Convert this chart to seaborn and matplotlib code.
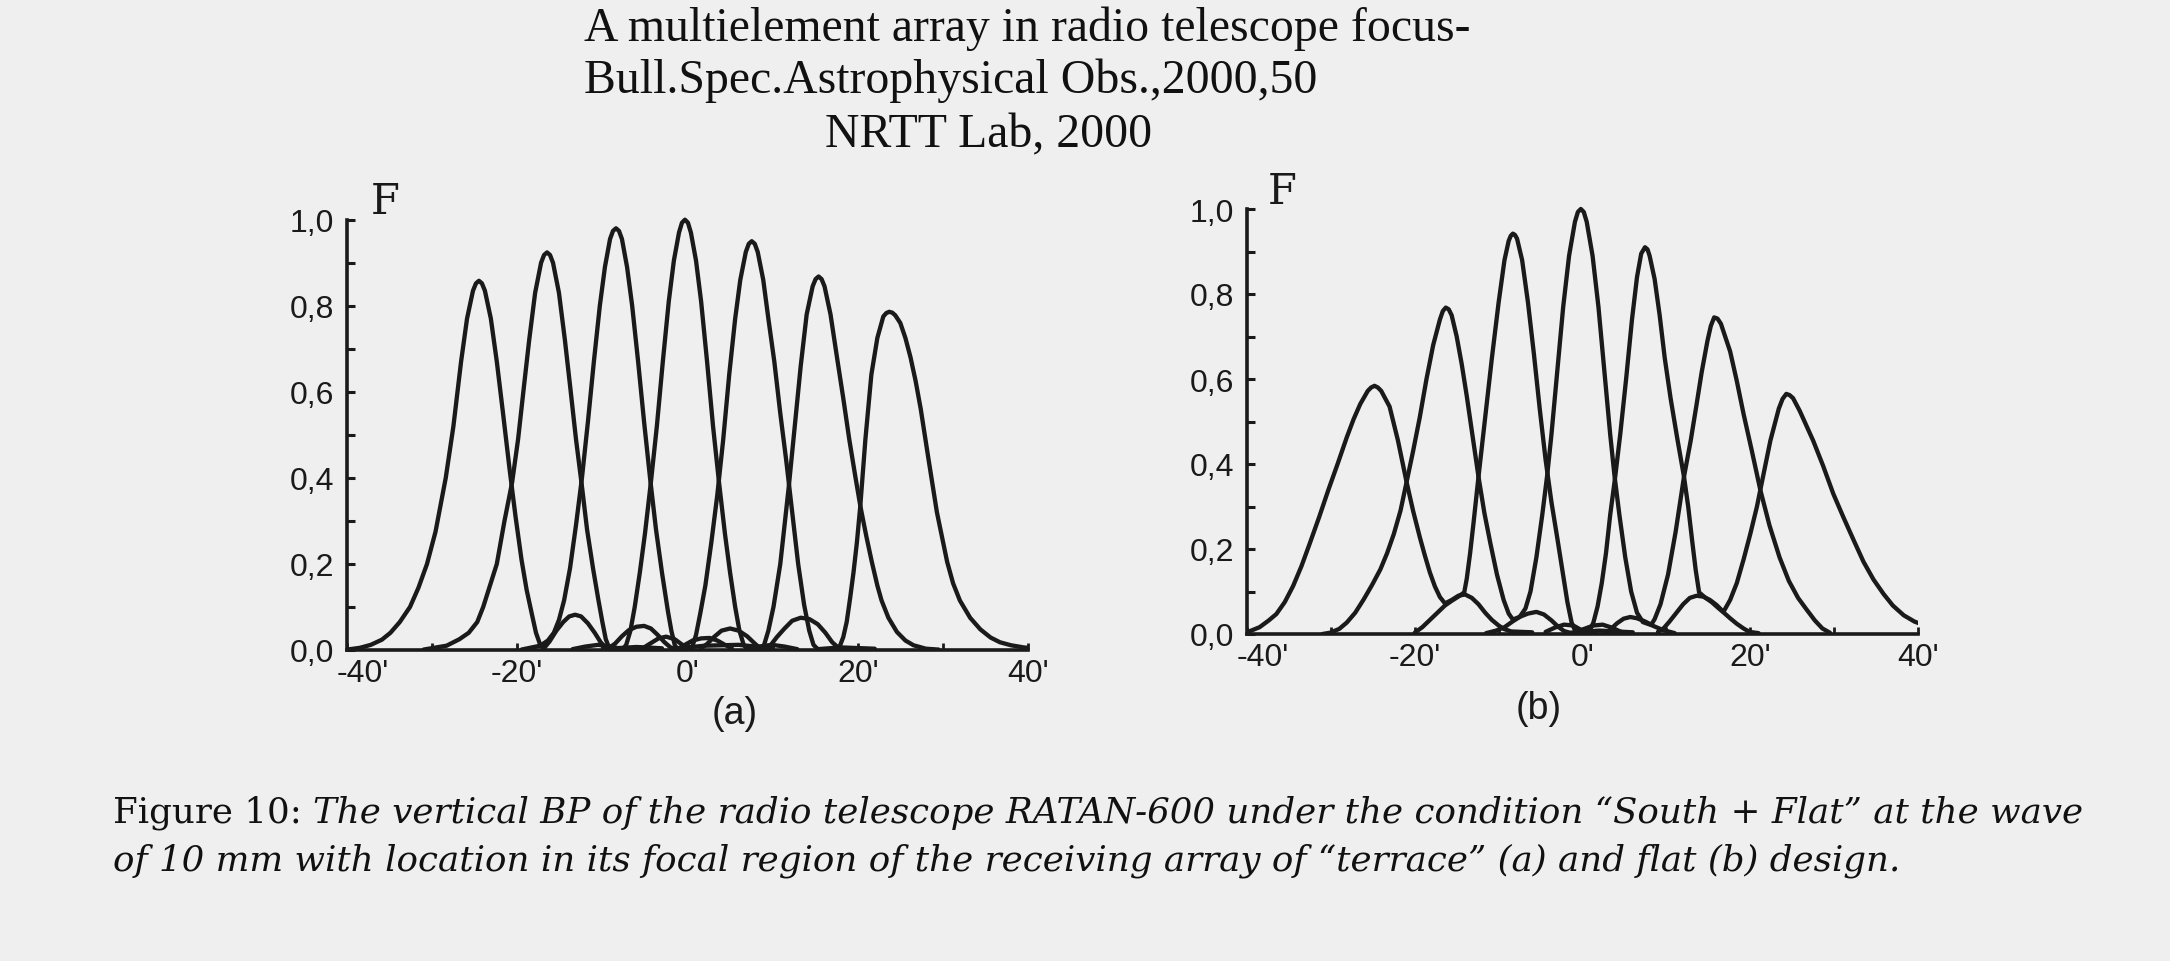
import numpy as np
import pandas as pd
import matplotlib
matplotlib.use("Agg")
import matplotlib.pyplot as plt
from matplotlib.transforms import ScaledTranslation
import seaborn as sns

# ---------------------------------------------------------------------------
# values: x in arcmin, F normalised beam response
# panel (a) "terrace" array: seven beams
A1_X = [-40.0, -38.5, -37.2, -35.9, -34.9, -33.8, -32.6, -31.6, -30.6, -29.6, -28.4, -27.5, -26.6, -25.9,
        -25.2, -24.85, -24.5, -24.15, -23.8, -23.1, -22.4, -21.7, -20.9, -20.2, -19.5, -18.9, -18.3, -17.8,
        -17.3, -16.9, -16.2, -15.4, -14.6, -13.9, -13.2, -12.5, -11.7, -10.9, -10.2, -9.6, -8.5, -6.0, -3.0]
A1_F = [0.001, 0.005, 0.012, 0.024, 0.040, 0.065, 0.100, 0.145, 0.200, 0.275, 0.400, 0.520, 0.670, 0.770,
        0.835, 0.852, 0.858, 0.852, 0.835, 0.770, 0.670, 0.555, 0.420, 0.310, 0.210, 0.140, 0.085, 0.040,
        0.012, 0.003, 0.020, 0.045, 0.065, 0.078, 0.082, 0.078, 0.062, 0.040, 0.018, 0.005, 0.004, 0.007, 0.004]

A2_X = [-31.0, -28.3, -26.8, -25.7, -24.7, -24.0, -23.2, -22.4, -21.5, -20.6, -19.9, -19.2, -18.6, -17.9,
        -17.2, -16.85, -16.5, -16.15, -15.8, -15.1, -14.4, -13.8, -13.1, -12.4, -11.8, -11.1, -10.5, -10.0,
        -9.6, -9.2, -8.5, -7.7, -6.9, -6.0, -5.1, -4.3, -3.5, -2.7, -2.0, -1.5, 2.0, 6.0, 10.0]
A2_F = [0.001, 0.010, 0.025, 0.040, 0.065, 0.100, 0.150, 0.200, 0.300, 0.390, 0.490, 0.615, 0.720, 0.830,
        0.900, 0.918, 0.924, 0.918, 0.900, 0.830, 0.720, 0.615, 0.490, 0.380, 0.280, 0.190, 0.120, 0.065,
        0.025, 0.005, 0.015, 0.032, 0.046, 0.054, 0.056, 0.050, 0.035, 0.018, 0.006, 0.003, 0.010, 0.012, 0.004]

A3_X = [-19.5, -17.3, -16.4, -15.7, -15.1, -14.5, -13.8, -13.1, -12.4, -11.7, -11.0, -10.3, -9.7, -9.1,
        -8.75, -8.4, -8.05, -7.7, -7.1, -6.5, -5.8, -5.1, -4.4, -3.7, -3.0, -2.3, -1.9, -1.5, -1.2, -0.3,
        0.6, 1.6, 2.6, 3.5, 4.4, 5.2]
A3_F = [0.001, 0.010, 0.022, 0.040, 0.070, 0.115, 0.190, 0.290, 0.400, 0.530, 0.670, 0.800, 0.890, 0.955,
        0.974, 0.980, 0.974, 0.955, 0.890, 0.800, 0.670, 0.530, 0.400, 0.280, 0.180, 0.090, 0.045, 0.012,
        0.002, 0.012, 0.022, 0.027, 0.028, 0.022, 0.012, 0.004]

A4_X = [-13.5, -12.0, -10.5, -9.0, -7.6, -7.2, -6.7, -6.2, -5.6, -5.0, -4.3, -3.6, -2.9, -2.2, -1.6,
        -1.0, -0.65, -0.3, 0.05, 0.4, 1.0, 1.6, 2.3, 3.0, 3.7, 4.4, 5.0, 5.6, 6.1, 6.6, 7.0, 8.4, 9.9,
        11.4, 12.9]
A4_F = [0.002, 0.008, 0.012, 0.008, 0.002, 0.012, 0.045, 0.100, 0.180, 0.270, 0.390, 0.520, 0.670, 0.810,
        0.905, 0.970, 0.993, 1.000, 0.993, 0.970, 0.905, 0.810, 0.670, 0.520, 0.390, 0.270, 0.180, 0.100,
        0.045, 0.012, 0.002, 0.008, 0.012, 0.008, 0.002]

A5_X = [-5.8, -5.1, -4.3, -3.4, -2.5, -1.5, -0.6, 0.2, 0.6, 1.0, 1.5, 2.1, 2.8, 3.5, 4.2, 4.9, 5.6, 6.2,
        6.85, 7.2, 7.55, 7.9, 8.25, 8.9, 9.5, 10.2, 10.9, 11.6, 12.3, 13.0, 13.7, 14.3, 14.8, 15.3, 18.0, 22.0]
A5_F = [0.002, 0.006, 0.016, 0.027, 0.031, 0.025, 0.012, 0.001, 0.010, 0.035, 0.085, 0.150, 0.250, 0.360,
        0.490, 0.640, 0.770, 0.860, 0.925, 0.944, 0.950, 0.944, 0.925, 0.860, 0.770, 0.670, 0.550, 0.440,
        0.320, 0.200, 0.105, 0.045, 0.012, 0.002, 0.006, 0.003]

A6_X = [1.6, 2.3, 3.1, 4.0, 5.0, 6.0, 7.0, 7.9, 8.7, 9.0, 9.5, 10.1, 10.9, 11.9, 12.6, 13.3, 14.0, 14.7,
        15.05, 15.4, 15.75, 16.1, 16.8, 17.6, 18.3, 19.0, 19.7, 20.3, 21.0, 21.65, 22.3, 22.8, 23.6, 24.6,
        25.6, 26.55, 28.0, 29.5]
A6_F = [0.004, 0.014, 0.030, 0.045, 0.050, 0.045, 0.032, 0.015, 0.001, 0.012, 0.045, 0.100, 0.200, 0.380,
        0.520, 0.660, 0.780, 0.845, 0.862, 0.868, 0.862, 0.845, 0.780, 0.675, 0.585, 0.490, 0.405, 0.335,
        0.265, 0.205, 0.150, 0.115, 0.075, 0.042, 0.022, 0.011, 0.003, 0.001]

A7_X = [9.2, 9.8, 10.5, 11.4, 12.3, 13.3, 14.3, 15.3, 16.2, 17.0, 17.8, 18.3, 18.7, 19.1, 19.5, 19.9,
        20.3, 20.9, 21.6, 22.3, 23.0, 23.35, 23.7, 24.05, 24.4, 25.0, 25.6, 26.2, 26.8, 27.4, 28.3, 29.3,
        30.5, 31.2, 32.0, 33.2, 34.4, 35.6, 36.7, 38.0, 39.5, 40.0]
A7_F = [0.003, 0.012, 0.030, 0.050, 0.068, 0.075, 0.072, 0.060, 0.040, 0.018, 0.004, 0.030, 0.065, 0.120,
        0.180, 0.250, 0.335, 0.490, 0.640, 0.725, 0.775, 0.783, 0.786, 0.784, 0.778, 0.760, 0.725, 0.680,
        0.625, 0.560, 0.445, 0.320, 0.205, 0.155, 0.115, 0.075, 0.048, 0.029, 0.018, 0.011, 0.006, 0.005]

# panel (b) flat array: seven beams
B1_X = [-40.0, -38.5, -37.4, -36.5, -35.5, -34.5, -33.5, -32.5, -31.4, -30.3, -29.2, -28.1, -27.3, -26.5,
        -25.6, -25.2, -24.8, -24.4, -24.0, -23.0, -22.0, -21.0, -20.2, -19.4, -18.8, -18.2, -17.6, -17.0,
        -16.4, -15.6, -14.8, -14.0, -13.2, -12.4, -11.6, -10.8, -10.0, -9.4, -8.5, -6.0]
B1_F = [0.004, 0.016, 0.032, 0.047, 0.075, 0.113, 0.160, 0.214, 0.275, 0.339, 0.400, 0.463, 0.505, 0.541,
        0.572, 0.580, 0.584, 0.580, 0.572, 0.535, 0.455, 0.360, 0.290, 0.228, 0.185, 0.145, 0.112, 0.087,
        0.072, 0.080, 0.090, 0.093, 0.085, 0.070, 0.050, 0.033, 0.020, 0.012, 0.006, 0.004]

B2_X = [-31.0, -30.1, -29.0, -28.1, -27.1, -26.1, -25.1, -24.1, -23.3, -22.5, -21.7, -21.0, -20.2, -19.4,
        -18.6, -17.8, -17.0, -16.65, -16.3, -15.95, -15.6, -15.0, -14.4, -13.8, -13.1, -12.4, -11.7, -11.0,
        -10.2, -9.4, -8.8, -8.3, -7.4, -6.5, -5.5, -4.6, -3.7, -2.9, -2.2, -1.5, 2.0, 6.0]
B2_F = [0.000, 0.003, 0.012, 0.027, 0.050, 0.081, 0.115, 0.152, 0.190, 0.235, 0.290, 0.355, 0.430, 0.510,
        0.600, 0.680, 0.740, 0.760, 0.768, 0.764, 0.750, 0.700, 0.635, 0.560, 0.465, 0.370, 0.285, 0.215,
        0.140, 0.080, 0.048, 0.034, 0.041, 0.048, 0.052, 0.046, 0.032, 0.017, 0.007, 0.003, 0.008, 0.004]

B3_X = [-20.0, -19.1, -18.2, -17.3, -16.4, -15.6, -14.8, -14.1, -13.8, -13.4, -13.0, -12.4, -11.6, -10.8,
        -10.0, -9.3, -8.8, -8.55, -8.3, -8.05, -7.8, -7.2, -6.5, -5.8, -5.1, -4.4, -3.7, -3.0, -2.4, -1.8,
        -1.3, -0.8, 0.2, 1.3, 2.4, 3.5, 4.6]
B3_F = [0.003, 0.016, 0.033, 0.050, 0.067, 0.078, 0.088, 0.098, 0.130, 0.190, 0.260, 0.370, 0.510, 0.650,
        0.780, 0.880, 0.925, 0.937, 0.942, 0.939, 0.930, 0.880, 0.780, 0.660, 0.530, 0.410, 0.310, 0.225,
        0.150, 0.075, 0.027, 0.004, 0.012, 0.020, 0.022, 0.015, 0.005]

B4_X = [-11.5, -10.3, -9.3, -8.3, -7.5, -6.8, -6.2, -5.5, -4.8, -4.2, -3.7, -3.0, -2.3, -1.6, -0.9, -0.55,
        -0.2, 0.15, 0.5, 1.2, 1.9, 2.6, 3.3, 3.8, 4.4, 5.1, 5.8, 6.5, 7.2, 8.2, 9.5, 11.0]
B4_F = [0.002, 0.008, 0.016, 0.030, 0.040, 0.060, 0.100, 0.180, 0.280, 0.375, 0.470, 0.620, 0.770, 0.890,
        0.970, 0.993, 1.000, 0.993, 0.970, 0.890, 0.770, 0.620, 0.470, 0.375, 0.280, 0.180, 0.100, 0.050,
        0.028, 0.021, 0.010, 0.002]

B5_X = [-4.4, -3.3, -2.2, -1.1, -0.2, 0.7, 1.3, 1.8, 2.3, 2.8, 3.3, 3.9, 4.5, 5.2, 5.9, 6.5, 7.0, 7.45,
        7.75, 8.0, 8.6, 9.2, 9.8, 10.5, 11.3, 12.1, 12.6, 13.1, 13.5, 13.9, 14.6, 15.4, 16.2, 16.8, 17.6,
        18.4, 19.2, 19.9, 21.0]
B5_F = [0.005, 0.015, 0.022, 0.020, 0.010, 0.001, 0.027, 0.065, 0.120, 0.190, 0.280, 0.370, 0.470, 0.600,
        0.740, 0.840, 0.895, 0.910, 0.905, 0.890, 0.835, 0.750, 0.650, 0.555, 0.460, 0.370, 0.300, 0.215,
        0.150, 0.098, 0.086, 0.075, 0.061, 0.051, 0.037, 0.024, 0.013, 0.005, 0.002]

B6_X = [2.9, 3.4, 4.1, 4.9, 5.7, 6.5, 7.4, 8.2, 8.6, 9.3, 10.2, 11.1, 12.1, 12.9, 13.6, 14.2, 14.9, 15.3,
        15.7, 16.1, 16.5, 17.6, 18.4, 19.2, 20.2, 21.2, 22.3, 23.5, 24.6, 25.7, 26.7, 27.7, 28.6, 29.5]
B6_F = [0.004, 0.012, 0.025, 0.036, 0.040, 0.037, 0.030, 0.022, 0.035, 0.070, 0.140, 0.240, 0.370, 0.455,
        0.540, 0.615, 0.690, 0.725, 0.745, 0.742, 0.730, 0.665, 0.595, 0.518, 0.430, 0.339, 0.255, 0.180,
        0.125, 0.085, 0.058, 0.032, 0.013, 0.003]

B7_X = [9.0, 9.7, 10.4, 11.2, 12.0, 12.8, 13.6, 14.4, 15.2, 16.0, 16.8, 17.6, 18.4, 19.2, 20.0, 20.8,
        21.2, 22.4, 23.4, 23.85, 24.3, 24.7, 25.1, 25.9, 26.7, 27.5, 28.7, 29.9, 31.1, 32.3, 33.5, 34.7,
        35.9, 37.0, 38.3, 39.6, 40.3]
B7_F = [0.005, 0.014, 0.030, 0.050, 0.070, 0.085, 0.090, 0.088, 0.080, 0.068, 0.052, 0.080, 0.120, 0.175,
        0.235, 0.300, 0.339, 0.455, 0.530, 0.553, 0.565, 0.562, 0.555, 0.525, 0.490, 0.455, 0.395, 0.330,
        0.275, 0.222, 0.170, 0.128, 0.094, 0.067, 0.044, 0.029, 0.024]

X_TICKS = [-40, -20, 0, 20, 40]
X_TICK_LABELS = ["-40'", "-20'", "0'", "20'", "40'"]
X_MINOR = [-30, -10, 10, 30]
Y_TICKS = [0.0, 0.2, 0.4, 0.6, 0.8, 1.0]
Y_TICK_LABELS = ["0,0", "0,2", "0,4", "0,6", "0,8", "1,0"]
Y_MINOR = [0.1, 0.3, 0.5, 0.7, 0.9]

HEADER_1 = "A multielement array in radio telescope focus-"
HEADER_2 = "Bull.Spec.Astrophysical Obs.,2000,50"
HEADER_3 = "NRTT Lab, 2000"
CAPTION_HEAD = "Figure 10: "
CAPTION_1 = "The vertical BP of the radio telescope RATAN-600 under the condition \u201cSouth + Flat\u201d at the wave"
CAPTION_2 = "of 10 mm with location in its focal region of the receiving array of \u201cterrace\u201d (a) and flat (b) design."

############################################################################################################

W, H = 2170, 962
PAPER = "#efefef"
INK = "#1a1a1a"


def beam_frame(xs_list, fs_list):
    parts = [pd.DataFrame({"x": xs, "F": fs, "beam": k})
             for k, (xs, fs) in enumerate(zip(xs_list, fs_list))]
    return pd.concat(parts, ignore_index=True)


def style_axes(ax):
    ax.set_facecolor(PAPER)
    ax.set_xlim(-40, 40)
    ax.set_ylim(0, 1.02)
    sns.despine(ax=ax)
    for side in ["left", "bottom"]:
        ax.spines[side].set_linewidth(2.6)
        ax.spines[side].set_color(INK)
    ax.spines["left"].set_bounds(0, 1)
    ax.set_xticks(X_TICKS)
    ax.set_xticklabels(X_TICK_LABELS)
    ax.set_xticks(X_MINOR, minor=True)
    ax.set_yticks(Y_TICKS)
    ax.set_yticklabels(Y_TICK_LABELS)
    ax.set_yticks(Y_MINOR, minor=True)
    ax.tick_params(axis="y", which="both", direction="in", length=6, width=2.2,
                   color=INK, pad=9, labelsize=23, labelcolor=INK)
    ax.tick_params(axis="x", which="both", direction="in", length=5, width=2.0,
                   color=INK, pad=6, labelsize=23, labelcolor=INK)
    ax.set_xlabel("")
    ax.set_ylabel("")


def px(x, y):
    # pixel position in the 2170x962 picture (y down) -> figure fraction
    return x / W, 1 - y / H


sns.set_theme(style="ticks")
plt.rcParams["font.family"] = ["Liberation Sans", "DejaVu Sans"]

fig = plt.figure(figsize=(W / 100, H / 100), dpi=100)
fig.patch.set_facecolor(PAPER)

ax_a = fig.add_axes([347 / W, 1 - 651 / H, 681 / W, 430.3 * 1.02 / H])
ax_b = fig.add_axes([1247 / W, 1 - 635 / H, 671 / W, 425.0 * 1.02 / H])

df_a = beam_frame([A1_X, A2_X, A3_X, A4_X, A5_X, A6_X, A7_X],
                  [A1_F, A2_F, A3_F, A4_F, A5_F, A6_F, A7_F])
df_b = beam_frame([B1_X, B2_X, B3_X, B4_X, B5_X, B6_X, B7_X],
                  [B1_F, B2_F, B3_F, B4_F, B5_F, B6_F, B7_F])

for ax, df in [(ax_a, df_a), (ax_b, df_b)]:
    sns.lineplot(data=df, x="x", y="F", units="beam", estimator=None, sort=False,
                 color=INK, linewidth=3.1, solid_joinstyle="round", legend=False, ax=ax)
    style_axes(ax)

# "F" axis names and panel letters
fig.text(*px(371, 214), "F", family="DejaVu Serif", fontsize=30, color=INK, ha="left", va="baseline")
fig.text(*px(1268, 204), "F", family="DejaVu Serif", fontsize=30, color=INK, ha="left", va="baseline")
fig.text(*px(735, 714), "(a)", fontsize=27, color=INK, ha="center", va="center")
fig.text(*px(1539, 709), "(b)", fontsize=27, color=INK, ha="center", va="center")

# header lines
serif = dict(family="Liberation Serif", color="#111111")
h1 = fig.text(*px(584, 41), HEADER_1, fontsize=33, ha="left", va="baseline", **serif)
h2 = fig.text(*px(584, 93), HEADER_2, fontsize=33, ha="left", va="baseline", **serif)
h3 = fig.text(*px(989, 147), HEADER_3, fontsize=33, ha="center", va="baseline", **serif)

# caption: roman "Figure 10:" then italic text
cap = dict(family="DejaVu Serif", color="#111111")
c0 = fig.text(*px(113, 823), CAPTION_HEAD, fontsize=24, ha="left", va="baseline", **cap)
c1 = fig.text(0, 0, CAPTION_1, fontsize=24, style="italic", ha="left", va="baseline", **cap)
c2 = fig.text(*px(113, 871), CAPTION_2, fontsize=24, style="italic", ha="left", va="baseline", **cap)

fig.canvas.draw()
renderer = fig.canvas.get_renderer()

# size the header to the width of the scanned line
size_h = 33 * 886 / h1.get_window_extent(renderer).width
for t in (h1, h2, h3):
    t.set_fontsize(size_h)

# size the caption to the width of its first line
w0 = c0.get_window_extent(renderer).width
w1 = c1.get_window_extent(renderer).width
size_c = 24 * 1970 / (w0 + w1)
for t in (c0, c1, c2):
    t.set_fontsize(size_c)
fig.canvas.draw()
w0 = c0.get_window_extent(renderer).width
c1.set_position(px(113 + w0, 823))

# keep the "-40'" label clear of the "0,0" label, as on the scan
fig.canvas.draw()
for ax in (ax_a, ax_b):
    ylab = ax.get_yticklabels()[0].get_window_extent(renderer)
    xlab = ax.get_xticklabels()[0]
    xb = xlab.get_window_extent(renderer)
    if xb.overlaps(ylab):
        shift = ylab.x1 - xb.x0 + 2
        xlab.set_transform(xlab.get_transform() + ScaledTranslation(shift / 100, 0, fig.dpi_scale_trans))

fig.savefig("out.png", dpi=100, facecolor=PAPER)
